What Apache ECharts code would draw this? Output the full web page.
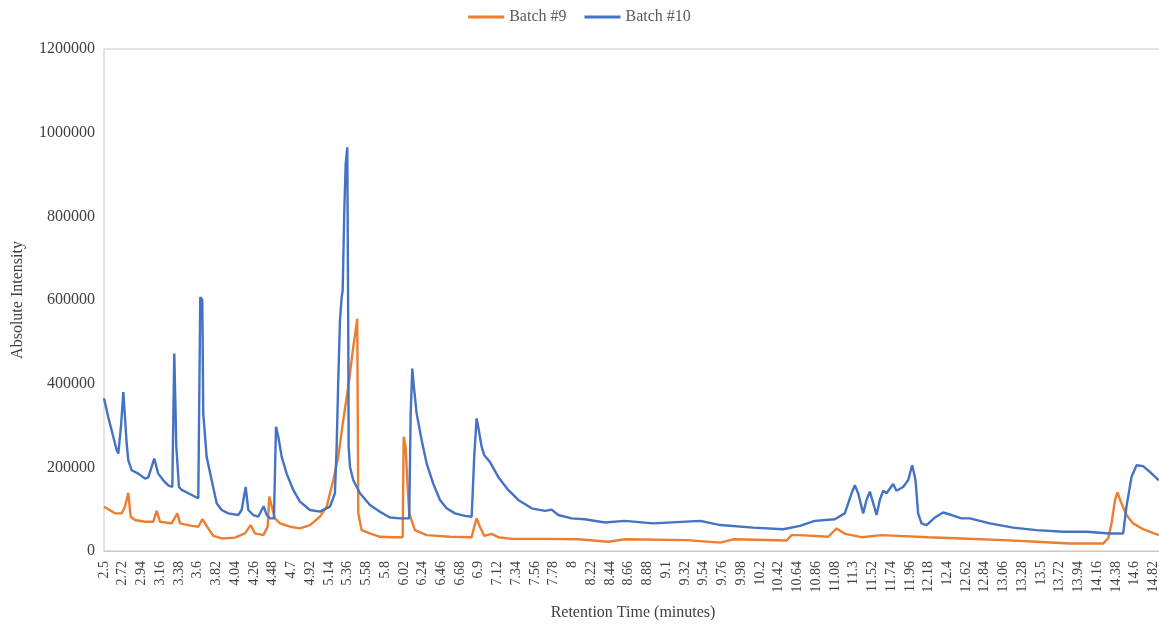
<!DOCTYPE html>
<html>
<head>
<meta charset="utf-8">
<script src="https://cdn.jsdelivr.net/npm/echarts@6/dist/echarts.min.js"></script>
<style>
  html, body { margin: 0; padding: 0; background: #fff; }
  #chart { width: 1159px; height: 628px; }
</style>
</head>
<body>
<div id="chart"></div>
<script>
// retention times (minutes) and intensities
var batch9Time = [2.5, 2.629, 2.708, 2.746, 2.785, 2.813, 2.864, 2.981, 3.079, 3.118,
  3.157, 3.294, 3.36, 3.392, 3.529, 3.607, 3.654, 3.724, 3.783, 3.881,
  4.038, 4.155, 4.222, 4.272, 4.37, 4.421, 4.44, 4.48, 4.507, 4.566,
  4.683, 4.8, 4.918, 5.035, 5.114, 5.191, 5.25, 5.309, 5.367, 5.426,
  5.473, 5.485, 5.524, 5.622, 5.739, 5.895, 6.006, 6.018, 6.041, 6.06,
  6.083, 6.15, 6.288, 6.561, 6.816, 6.846, 6.874, 6.913, 6.964, 7.05,
  7.128, 7.285, 7.676, 8.067, 8.419, 8.615, 9.339, 9.735, 9.886, 10.513,
  10.572, 10.669, 11.002, 11.1, 11.197, 11.393, 11.628, 12.175, 12.567, 13.055,
  13.447, 13.838, 14.229, 14.288, 14.327, 14.369, 14.397, 14.436, 14.503, 14.581,
  14.698, 14.883];
var batch9Values = [106000, 90000, 90000, 106000, 139000, 82000, 74000, 70000, 70000, 96000,
  70000, 66000, 90000, 66000, 60000, 58000, 76000, 54000, 36000, 30000,
  32000, 42000, 62000, 42000, 38000, 58000, 130000, 98000, 78000, 66000,
  58000, 54000, 62000, 82000, 106000, 169000, 225000, 313000, 392000, 487000,
  555000, 90000, 50000, 42000, 34000, 33000, 33000, 273000, 249000, 169000,
  90000, 50000, 38000, 34000, 33000, 58000, 78000, 58000, 36000, 41000,
  33000, 29000, 29000, 28000, 22000, 28000, 26000, 20000, 28000, 25000,
  38000, 38000, 34000, 54000, 41000, 33000, 38000, 33000, 30000, 26000,
  22000, 18000, 18000, 30000, 66000, 122000, 140000, 118000, 86000, 66000,
  52000, 38000];

var batch10Time = [2.5, 2.55, 2.609, 2.649, 2.668, 2.7, 2.727, 2.766, 2.785, 2.825,
  2.903, 2.981, 3.02, 3.09, 3.137, 3.196, 3.255, 3.302, 3.325, 3.349,
  3.38, 3.412, 3.489, 3.607, 3.619, 3.63, 3.654, 3.665, 3.705, 3.764,
  3.823, 3.881, 3.959, 4.076, 4.116, 4.163, 4.194, 4.252, 4.311, 4.351,
  4.374, 4.41, 4.448, 4.495, 4.519, 4.546, 4.586, 4.644, 4.722, 4.8,
  4.918, 5.035, 5.153, 5.211, 5.231, 5.25, 5.27, 5.29, 5.302, 5.32,
  5.337, 5.356, 5.368, 5.372, 5.388, 5.426, 5.505, 5.622, 5.739, 5.857,
  5.974, 6.083, 6.1, 6.119, 6.138, 6.17, 6.229, 6.288, 6.365, 6.444,
  6.522, 6.62, 6.737, 6.816, 6.846, 6.874, 6.893, 6.933, 6.964, 7.03,
  7.128, 7.245, 7.363, 7.52, 7.676, 7.755, 7.832, 7.989, 8.145, 8.38,
  8.615, 8.947, 9.5, 9.735, 10.121, 10.473, 10.669, 10.844, 11.079, 11.196,
  11.276, 11.314, 11.353, 11.412, 11.451, 11.49, 11.529, 11.569, 11.608, 11.647,
  11.686, 11.764, 11.803, 11.881, 11.94, 11.987, 12.027, 12.057, 12.097, 12.156,
  12.253, 12.351, 12.45, 12.567, 12.664, 12.899, 13.172, 13.447, 13.759, 14.034,
  14.307, 14.464, 14.503, 14.562, 14.621, 14.698, 14.777, 14.883];
var batch10Values = [365000, 320000, 273000, 241000, 233000, 300000, 380000, 257000, 217000, 193000,
  185000, 173000, 176000, 221000, 185000, 169000, 157000, 153000, 472000, 249000,
  153000, 146000, 138000, 126000, 126000, 607000, 600000, 329000, 225000, 169000,
  114000, 98000, 90000, 86000, 98000, 153000, 98000, 86000, 82000, 98000,
  107000, 86000, 78000, 78000, 297000, 273000, 225000, 185000, 146000, 118000,
  98000, 94000, 106000, 138000, 249000, 408000, 551000, 607000, 623000, 806000,
  925000, 965000, 500000, 249000, 201000, 169000, 138000, 110000, 94000, 80000,
  78000, 78000, 329000, 436000, 392000, 329000, 265000, 209000, 161000, 122000,
  102000, 90000, 84000, 82000, 225000, 317000, 297000, 249000, 229000, 213000,
  177000, 146000, 122000, 102000, 96000, 99000, 86000, 78000, 76000, 68000,
  72000, 66000, 72000, 62000, 56000, 52000, 60000, 72000, 76000, 90000,
  138000, 157000, 138000, 90000, 122000, 142000, 115000, 86000, 122000, 144000,
  138000, 160000, 144000, 153000, 169000, 205000, 169000, 90000, 66000, 62000,
  80000, 92000, 86000, 78000, 78000, 66000, 56000, 50000, 46000, 46000,
  42000, 42000, 106000, 177000, 205000, 203000, 189000, 169000];

// x tick labels as they appear under the axis
var timeTicks = [2.5, 2.72, 2.94, 3.16, 3.38, 3.6, 3.82, 4.04, 4.26, 4.48, 4.7, 4.92,
  5.14, 5.36, 5.58, 5.8, 6.02, 6.24, 6.46, 6.68, 6.9, 7.12, 7.34, 7.56, 7.78, 8,
  8.22, 8.44, 8.66, 8.88, 9.1, 9.32, 9.54, 9.76, 9.98, 10.2, 10.42, 10.64, 10.86,
  11.08, 11.3, 11.52, 11.74, 11.96, 12.18, 12.4, 12.62, 12.84, 13.06, 13.28, 13.5,
  13.72, 13.94, 14.16, 14.38, 14.6, 14.82];

function pairs(xs, ys) {
  return xs.map(function (x, i) { return [x, ys[i]]; });
}

var font = '"Liberation Serif", "Times New Roman", serif';
var chart = echarts.init(document.getElementById('chart'));

var option = {
  animation: false,
  color: ['#ED7D31', '#4472C4'],
  textStyle: { fontFamily: font },
  legend: {
    top: 4,
    left: 'center',
    icon: 'rect',
    itemWidth: 36,
    itemHeight: 3,
    itemGap: 18,
    textStyle: { fontFamily: font, fontSize: 16, color: '#595959' },
    data: ['Batch #9', 'Batch #10']
  },
  grid: {
    left: 104,
    top: 49,
    right: -3,
    bottom: 77,
    show: true,
    borderColor: '#c8c8c8',
    borderWidth: 1,
    outerBoundsMode: 'none'
  },
  xAxis: {
    type: 'value',
    min: 2.5,
    max: 14.92,
    name: 'Retention Time (minutes)',
    nameLocation: 'middle',
    nameGap: 54,
    nameTextStyle: { fontFamily: font, fontSize: 16, color: '#404040' },
    axisLine: { lineStyle: { color: '#c8c8c8' } },
    axisTick: { show: false },
    splitLine: { show: false },
    axisLabel: {
      customValues: timeTicks,
      rotate: 90,
      margin: 10,
      fontFamily: font,
      fontSize: 14,
      color: '#404040',
      formatter: function (v) { return String(v); }
    }
  },
  yAxis: {
    type: 'value',
    min: 0,
    max: 1200000,
    interval: 200000,
    name: 'Absolute Intensity',
    nameLocation: 'middle',
    nameGap: 78,
    nameTextStyle: { fontFamily: font, fontSize: 16, color: '#404040' },
    axisLine: { show: false },
    axisTick: { show: false },
    splitLine: { show: false },
    axisLabel: {
      margin: 9,
      fontFamily: font,
      fontSize: 16,
      color: '#404040',
      formatter: function (v) { return String(v); }
    }
  },
  series: [
    {
      name: 'Batch #9',
      type: 'line',
      showSymbol: false,
      lineStyle: { width: 2.4 },
      data: pairs(batch9Time, batch9Values)
    },
    {
      name: 'Batch #10',
      type: 'line',
      showSymbol: false,
      lineStyle: { width: 2.4 },
      data: pairs(batch10Time, batch10Values)
    }
  ]
};

chart.setOption(option);
</script>
</body>
</html>
